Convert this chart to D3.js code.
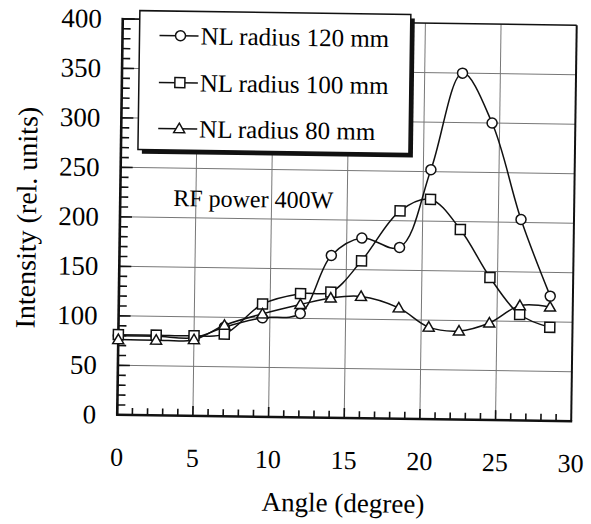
<!DOCTYPE html>
<html>
<head>
<meta charset="utf-8">
<script src="https://cdn.jsdelivr.net/npm/d3@7"></script>
<style>
  html, body { margin: 0; padding: 0; background: #fff; }
  svg { display: block; }
</style>
</head>
<body>
<svg id="chart" width="591" height="524"></svg>
<script>
// ---- data ----
const angles = [0, 2.5, 5, 7, 9.5, 12, 14, 16, 18.5, 20.5, 22.5, 24.5, 26.5, 28.5];
const r120 = [80, 80, 79, 90, 100, 105, 164, 182, 173, 252, 350, 300, 203, 126];
const r100 = [81, 81, 81, 83, 114, 125, 127, 159, 210, 222, 192, 144, 107, 94.5];
const r80  = [76, 76, 77, 92, 104, 114, 121, 123, 112, 93, 89.5, 98, 116, 115];
const seriesNames = ["NL radius 120 mm", "NL radius 100 mm", "NL radius 80 mm"];
const markerTypes = ["circle", "square", "triangle"];
const xTicks = [0, 5, 10, 15, 20, 25, 30];
const yTicks = [0, 50, 100, 150, 200, 250, 300, 350, 400];
const xTitle = "Angle (degree)";
const yTitle = "Intensity (rel. units)";
const note = "RF power 400W";

// ---- font warm-up ----
const FONT = "'Liberation Serif'";
const cv = document.createElement("canvas").getContext("2d");
[22, 24, 25, 26, 27, 28].forEach(s => { cv.font = s + "px " + FONT; cv.measureText("Intensity (rel. units) 0123456789 NL radius mm RF power W Angle (degree)"); });

// ---- layout ----
const L = 120, R = 574, T = 22, B = 418;
const x = d3.scaleLinear().domain([0, 30]).range([L, R]);
const y = d3.scaleLinear().domain([0, 400]).range([B, T]);

const svg = d3.select("#chart");
const g = svg.append("g").attr("transform", "rotate(0.8, 345, 218)");

function txt(parent) {
  return parent.append("text").attr("font-family", FONT);
}

// grid
g.append("g").selectAll("line").data(yTicks.filter(v => v > 0 && v < 400)).join("line")
  .attr("x1", L).attr("x2", R).attr("y1", d => y(d)).attr("y2", d => y(d))
  .attr("stroke", "#777").attr("stroke-width", 1);
g.append("g").selectAll("line").data(xTicks.filter(v => v > 0 && v < 30)).join("line")
  .attr("y1", T).attr("y2", B).attr("x1", d => x(d)).attr("x2", d => x(d))
  .attr("stroke", "#777").attr("stroke-width", 1);

// frame: top and right
g.append("line").attr("x1", L).attr("x2", R).attr("y1", T).attr("y2", T)
  .attr("stroke", "#111").attr("stroke-width", 1.6);
g.append("line").attr("x1", R).attr("x2", R).attr("y1", T).attr("y2", B)
  .attr("stroke", "#111").attr("stroke-width", 2);

// minor / major ticks
const yMinor = d3.range(0, 401, 10);
g.append("g").selectAll("line").data(yMinor).join("line")
  .attr("x1", L).attr("x2", d => L + (d % 50 === 0 ? 12 : 8))
  .attr("y1", d => y(d)).attr("y2", d => y(d))
  .attr("stroke", "#111").attr("stroke-width", 1.6);
const xMinor = d3.range(0, 30, 1);
g.append("g").selectAll("line").data(xMinor).join("line")
  .attr("y1", B).attr("y2", d => B - (d % 5 === 0 ? 10 : 7))
  .attr("x1", d => x(d)).attr("x2", d => x(d))
  .attr("stroke", "#111").attr("stroke-width", 1.6);

// axes lines
g.append("line").attr("x1", L).attr("x2", L).attr("y1", T - 1).attr("y2", B + 1)
  .attr("stroke", "#111").attr("stroke-width", 2.6);
g.append("line").attr("x1", L - 1).attr("x2", R + 1).attr("y1", B).attr("y2", B)
  .attr("stroke", "#111").attr("stroke-width", 2.6);

// tick labels
yTicks.forEach(v => {
  txt(g).attr("x", 99).attr("y", y(v) + 9)
    .attr("text-anchor", "end").attr("font-size", 27).text(String(v));
});
xTicks.forEach(v => {
  txt(g).attr("x", x(v)).attr("y", 469)
    .attr("text-anchor", "middle").attr("font-size", 26).text(String(v));
});

// axis titles
txt(g).attr("x", (L + R) / 2).attr("y", 512)
  .attr("text-anchor", "middle").attr("font-size", 27).text(xTitle);
txt(g).attr("transform", "translate(36,222) rotate(-90)")
  .attr("text-anchor", "middle").attr("font-size", 28).text(yTitle);

// note
txt(g).attr("x", 173).attr("y", 208.5).attr("font-size", 24).text(note);

// series
const series = [r120, r100, r80];
const line = d3.line().x(d => x(d[0])).y(d => y(d[1])).curve(d3.curveCatmullRom.alpha(0.5));

function drawMarker(sel, type) {
  if (type === "circle") {
    sel.append("circle").attr("r", 5);
  } else if (type === "square") {
    sel.append("rect").attr("x", -5).attr("y", -5).attr("width", 10).attr("height", 10);
  } else {
    sel.append("path").attr("d", "M0,-5.5L5.5,4L-5.5,4Z");
  }
}

series.forEach((vals, i) => {
  const pts = angles.map((a, k) => [a, vals[k]]);
  g.append("path").datum(pts).attr("d", line)
    .attr("fill", "none").attr("stroke", "#111").attr("stroke-width", 1.5);
});
series.forEach((vals, i) => {
  const pts = angles.map((a, k) => [a, vals[k]]);
  const mg = g.append("g").attr("fill", "#fff").attr("stroke", "#111").attr("stroke-width", 1.5);
  pts.forEach(p => {
    const m = mg.append("g").attr("transform", `translate(${x(p[0])},${y(p[1])})`);
    drawMarker(m, markerTypes[i]);
  });
});

// legend
const lx = 137, ly = 13.5, lw = 271, lh = 139;
g.append("rect").attr("x", lx + 4).attr("y", ly + 4).attr("width", lw).attr("height", lh)
  .attr("fill", "#111");
g.append("rect").attr("x", lx).attr("y", ly).attr("width", lw).attr("height", lh)
  .attr("fill", "#fff").attr("stroke", "#111").attr("stroke-width", 1.5);
const rows = [38, 85, 131];
seriesNames.forEach((name, i) => {
  const ry = rows[i];
  g.append("line").attr("x1", 157).attr("x2", 196).attr("y1", ry).attr("y2", ry)
    .attr("stroke", "#111").attr("stroke-width", 1.5);
  const m = g.append("g").attr("transform", `translate(178,${ry})`)
    .attr("fill", "#fff").attr("stroke", "#111").attr("stroke-width", 1.5);
  drawMarker(m, markerTypes[i]);
  txt(g).attr("x", 198).attr("y", ry + 8.5).attr("font-size", 25).text(name);
});
</script>
</body>
</html>
